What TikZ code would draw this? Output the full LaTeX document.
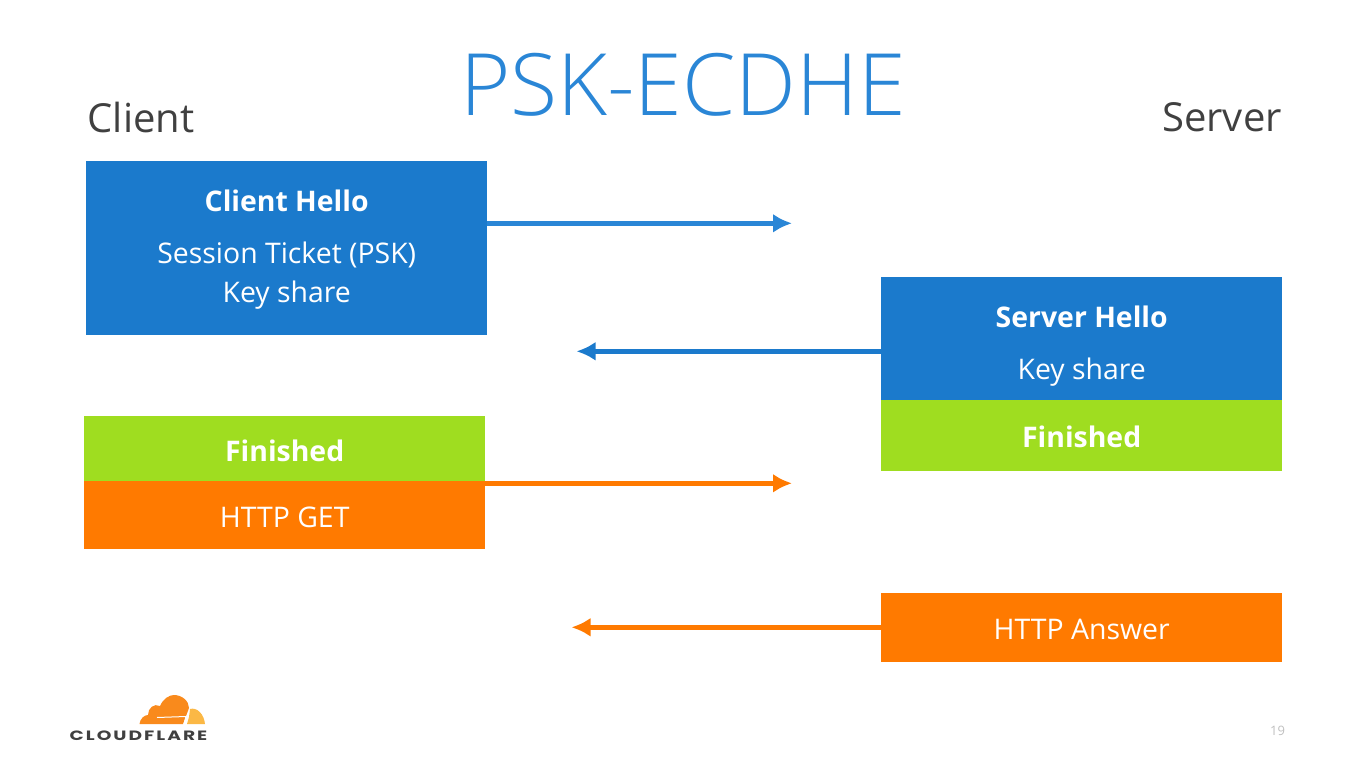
\documentclass[tikz,border=0pt]{standalone}
\usepackage{fontspec}
\setmainfont{Open Sans}
\newfontfamily\titlefont{Open Sans Light}
\newfontfamily\logofont[LetterSpace=15,FakeStretch=1.38]{Poppins Bold}
\usetikzlibrary{positioning, arrows.meta}
\definecolor{boxBlue}{HTML}{1B7ACC}
\definecolor{arrowBlue}{HTML}{2A86D6}
\definecolor{boxGreen}{HTML}{9FDD20}
\definecolor{boxOrange}{HTML}{FF7A00}
\definecolor{cloudOrange}{HTML}{F98A1C}
\definecolor{cloudYellow}{HTML}{FBB845}
\definecolor{inkGray}{HTML}{404040}
\newcommand{\droprule}[1]{\rule{0pt}{#1pt}}
\tikzset{
    msgbox/.style={
        anchor=north west,
        minimum width=401pt,
        inner sep=0pt,
        align=center,
        text=white,
        font=\fontsize{28.4}{39}\selectfont
    },
    msgArrow/.style={
        -{Latex[length=19pt,width=19pt]},
        line width=4.5pt
    },
    sideLabel/.style={text=inkGray, font=\fontsize{40}{48}\selectfont, inner sep=0pt}
}
\begin{document}
\begin{tikzpicture}[x=1pt, y=-1pt]
    \useasboundingbox (0,0) rectangle (1366,768);

    \node[text=arrowBlue, inner sep=0pt, font=\titlefont\fontsize{86}{96}\selectfont] (title) at (683,85) {PSK-ECDHE};
    \node[sideLabel] (client) at (141,117.5) {Client};
    \node[sideLabel] (server) at (1222,117.5) {Server};

    % Client side
    \node[msgbox, fill=boxBlue, minimum height=174pt] (hello_c) at (86,161) {\droprule{24}\textbf{Client Hello}\\[13pt]Session Ticket (PSK)\\Key share};
    \node[msgbox, fill=boxGreen, minimum height=66pt] (fin_c) at (84,415.5) {\droprule{26}\textbf{Finished}};
    \node[msgbox, fill=boxOrange, minimum height=68pt] (get_c) at (84,481) {\droprule{25}HTTP GET};

    % Server side
    \node[msgbox, fill=boxBlue, minimum height=123pt] (hello_s) at (881,277) {\droprule{36}\textbf{Server Hello}\\[13pt]Key share};
    \node[msgbox, fill=boxGreen, minimum height=71pt] (fin_s) at (881,400) {\droprule{24}\textbf{Finished}};
    \node[msgbox, fill=boxOrange, minimum height=69pt] (answer_s) at (881,593) {\droprule{23}HTTP Answer};

    % free ends
    \coordinate (end_a) at (792,223.3);
    \coordinate (end_b) at (576.5,351.3);
    \coordinate (end_c) at (792,483.3);
    \coordinate (end_d) at (571.5,627.3);

    \draw[msgArrow, arrowBlue] (hello_c.east |- end_a) -- (end_a);
    \draw[msgArrow, boxBlue] (hello_s.west |- end_b) -- (end_b);
    \draw[msgArrow, boxOrange] (get_c.east |- end_c) -- (end_c);
    \draw[msgArrow, boxOrange] (answer_s.west |- end_d) -- (end_d);

    % Logo
    \fill[cloudYellow] (187,724) -- (189,717) .. controls (189.5,713) and (190,710) .. (190,709)
        .. controls (197,707) and (204,714) .. (205,724) -- cycle;
    \fill[cloudOrange] (139.5,724) .. controls (140,719) and (144,715) .. (148,715)
        .. controls (148,708) and (154,703) .. (160,706)
        .. controls (163,699) and (169,695) .. (174,695)
        .. controls (182,695) and (189,701) .. (189,708)
        .. controls (188,711) and (186,716) .. (183,724) -- cycle;
    \draw[white, line width=1pt] (157,717.5) -- (186,716.5) -- (184,724);
    \node[text=inkGray, inner sep=0pt, font=\logofont\fontsize{13.5}{16}\selectfont] (logo) at (138.5,735.5) {CLOUDFLARE};

    \node[text=gray!50, inner sep=0pt, font=\fontsize{13}{14}\selectfont] (page) at (1277.5,731) {19};
\end{tikzpicture}
\end{document}
